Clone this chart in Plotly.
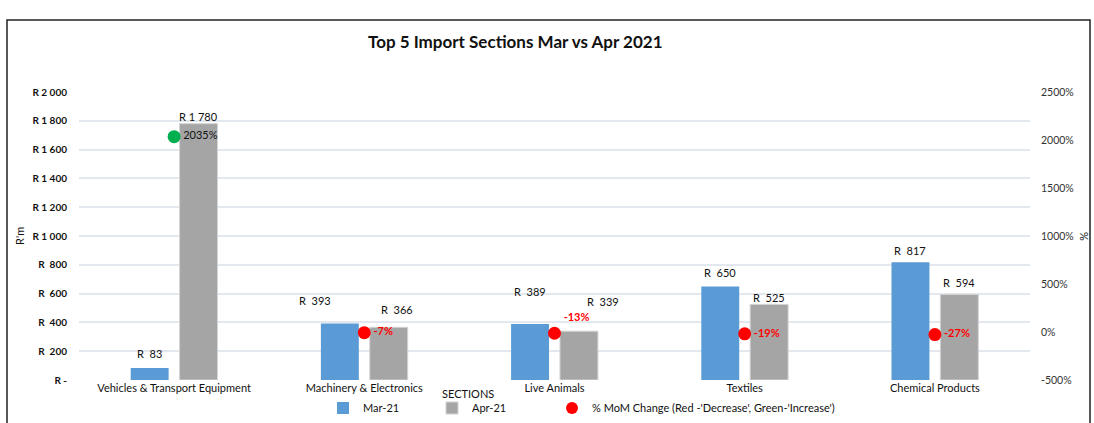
import plotly.graph_objects as go

categories = ["Vehicles & Transport Equipment", "Machinery & Electronics", "Live Animals", "Textiles", "Chemical Products"]
mar21 = [83, 393, 389, 650, 817]
apr21 = [1780, 366, 339, 525, 594]
mom_pct = [2035, -7, -13, -19, -27]

left_tickvals = [0, 200, 400, 600, 800, 1000, 1200, 1400, 1600, 1800, 2000]
left_ticktext = ["R -", "R  200", "R  400", "R  600", "R  800", "R 1 000", "R 1 200", "R 1 400", "R 1 600", "R 1 800", "R 2 000"]
right_tickvals = [-500, 0, 500, 1000, 1500, 2000, 2500]
right_ticktext = [f"{v}%" for v in right_tickvals]

# label placement (pixel offsets from bar top, as in the Excel original)
mar_label_dx = [0, -25, 0, 0, 0]
mar_label_dy = [15, 23, 32, 14, 12]
apr_label_dx = [0, 8, 24, 0, 0]
apr_label_dy = [7, 18, 30, 7, 12]
pct_label_pos = ["middle right", "middle right", "top right", "middle right", "middle right"]


def rand(v):
    s = f"{v:,}".replace(",", " ")
    return f"R  {s}" if v < 1000 else f"R {s}"


W, H = 1094, 423
ML, MR, MT, MB = 79, 64, 92, 43
PW, PH = W - ML - MR, H - MT - MB


def px_x(p):
    return (p - ML) / PW


def px_y(p):
    return 1 - (p - MT) / PH


FONT = "Lato, Carlito, Calibri, sans-serif"
BAR_OFF = 24.5

fig = go.Figure()
fig.add_trace(go.Bar(
    name="Mar-21", x=categories, y=mar21,
    marker=dict(color="#5b9bd5", line=dict(color="#5b9bd5", width=0)),
    legend="legend",
))
fig.add_trace(go.Bar(
    name="Apr-21", x=categories, y=apr21,
    marker=dict(color="#a5a5a5", line=dict(color="#d3d3d3", width=1)),
    legend="legend",
))
dot_colors = ["#00b050" if v > 0 else "#ff0000" for v in mom_pct]
lab_colors = ["#111111" if v > 0 else "#ff0000" for v in mom_pct]
fig.add_trace(go.Scatter(
    name="% MoM Change (Red -'Decrease', Green-'Increase')",
    x=categories, y=mom_pct, yaxis="y2", mode="markers+text",
    marker=dict(color=dot_colors, size=13),
    text=[f"<b>{v}%</b>" if v < 0 else f"{v}%" for v in mom_pct],
    textposition=pct_label_pos,
    textfont=dict(size=11, color=lab_colors, family=FONT),
    cliponaxis=False, showlegend=False,
))
# legend entry for the % MoM series (red marker as in the original legend)
fig.add_trace(go.Scatter(
    name="% MoM Change (Red -'Decrease', Green-'Increase')",
    x=[None], y=[None], yaxis="y2", mode="markers",
    marker=dict(color="#ff0000", size=12), showlegend=True, legend="legend2",
))

annotations = [
    dict(text="<b>Top 5 Import Sections Mar vs Apr 2021</b>", xref="paper", yref="paper",
         x=px_x(515), y=px_y(42), xanchor="center", yanchor="middle", showarrow=False,
         font=dict(size=17, color="#111", family=FONT)),
    dict(text="SECTIONS", xref="paper", yref="paper", x=px_x(468), y=px_y(393),
         xanchor="center", yanchor="middle", showarrow=False, font=dict(size=11, color="#111")),
    dict(text="R'm", xref="paper", yref="paper", x=px_x(19), y=px_y(236), textangle=-90,
         xanchor="center", yanchor="middle", showarrow=False, font=dict(size=11, color="#111")),
    dict(text="%", xref="paper", yref="paper", x=px_x(1085), y=px_y(236), textangle=90,
         xanchor="center", yanchor="middle", showarrow=False, font=dict(size=11, color="#111")),
]
for c, v, dx, dy in zip(categories, mar21, mar_label_dx, mar_label_dy):
    annotations.append(dict(text=rand(v), xref="x", yref="y", x=c, y=v, xshift=-BAR_OFF + dx, yshift=dy,
                            xanchor="center", yanchor="middle", showarrow=False,
                            font=dict(size=11, color="#111", family=FONT)))
for c, v, dx, dy in zip(categories, apr21, apr_label_dx, apr_label_dy):
    annotations.append(dict(text=rand(v), xref="x", yref="y", x=c, y=v, xshift=BAR_OFF + dx, yshift=dy,
                            xanchor="center", yanchor="middle", showarrow=False,
                            font=dict(size=11, color="#111", family=FONT)))

fig.update_layout(
    width=W, height=H,
    margin=dict(l=ML, r=MR, t=MT, b=MB, autoexpand=False),
    paper_bgcolor="white", plot_bgcolor="white",
    font=dict(family=FONT, size=11, color="#111"),
    barmode="group", bargap=0.486, bargroupgap=0.224,
    showlegend=True,
    legend=dict(orientation="h", x=px_x(323), xanchor="left", y=px_y(408), yanchor="middle",
                font=dict(size=11, color="#111"), itemwidth=30, entrywidth=64,
                bgcolor="rgba(0,0,0,0)", traceorder="normal"),
    legend2=dict(orientation="h", x=px_x(552), xanchor="left", y=px_y(408), yanchor="middle",
                 font=dict(size=11, color="#111"), itemwidth=30,
                 bgcolor="rgba(0,0,0,0)"),
    xaxis=dict(showgrid=False, showline=False, ticks="", tickfont=dict(size=11, color="#111")),
    yaxis=dict(range=[0, 2000], tickvals=left_tickvals,
               ticktext=[f"<b>{t}</b>" for t in left_ticktext],
               showgrid=True, gridcolor="#e3e8ef", gridwidth=1.5, zeroline=False,
               tickfont=dict(size=10, color="#111"), ticks="", ticklabelstandoff=11),
    yaxis2=dict(range=[-500, 2500], tickvals=right_tickvals, ticktext=right_ticktext,
                overlaying="y", side="right", showgrid=False, zeroline=False,
                tickfont=dict(size=10.5, color="#333"), ticklabelstandoff=10),
    annotations=annotations,
    shapes=[
        dict(type="rect", xref="paper", yref="paper", x0=px_x(7), x1=px_x(1090), y0=px_y(440), y1=px_y(20),
             line=dict(color="#222", width=1.5), fillcolor="rgba(0,0,0,0)", layer="below"),
    ],
)

fig.write_html("out.html", config={"displayModeBar": False},
               post_script="document.body.style.margin='0';document.body.style.overflow='hidden';")
